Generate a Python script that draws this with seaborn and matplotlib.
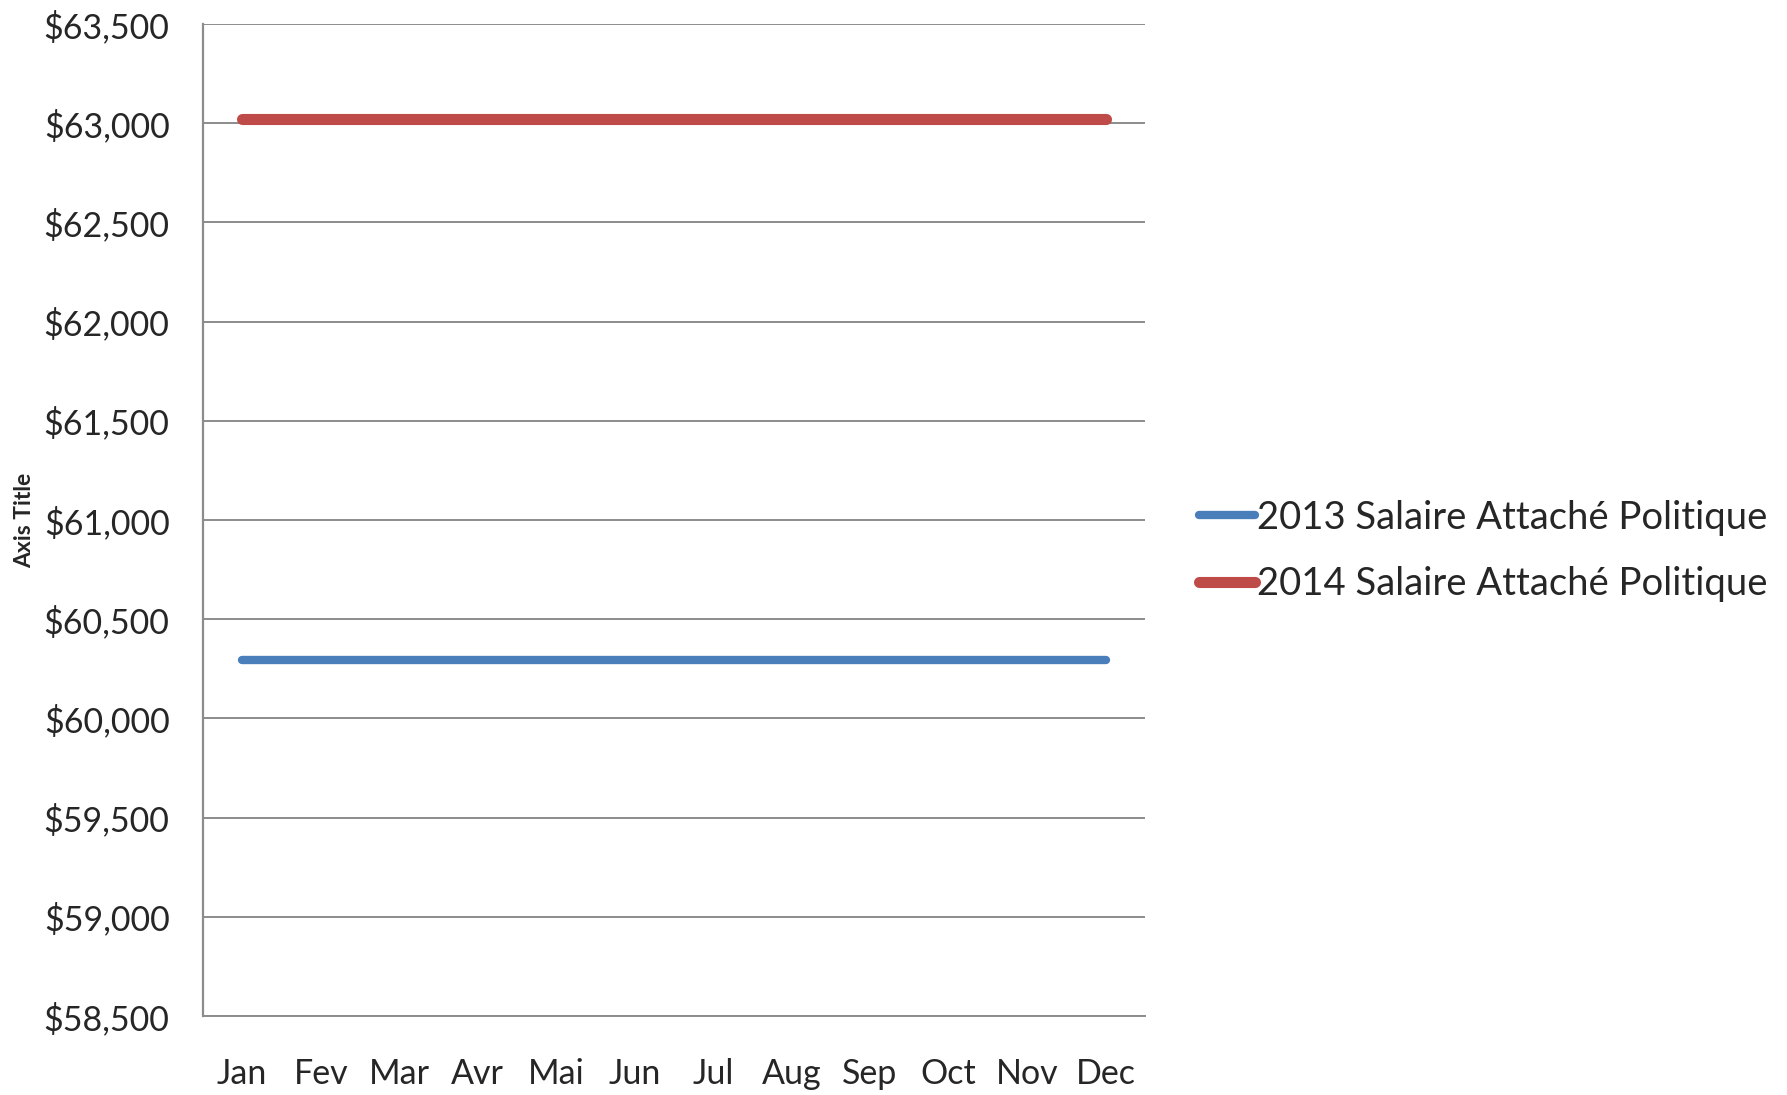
import pandas as pd
import seaborn as sns
import matplotlib.pyplot as plt
from matplotlib.ticker import FuncFormatter

# Monthly salary values
months = ["Jan", "Fev", "Mar", "Avr", "Mai", "Jun", "Jul", "Aug", "Sep", "Oct", "Nov", "Dec"]
salary_2013 = [60295] * 12
salary_2014 = [63022] * 12
series_names = ["2013 Salaire Attaché Politique", "2014 Salaire Attaché Politique"]

df = pd.DataFrame({
    "month": months * 2,
    "salary": salary_2013 + salary_2014,
    "series": [series_names[0]] * 12 + [series_names[1]] * 12,
})

sns.set_style("white")
plt.rcParams["font.family"] = ["Lato", "DejaVu Sans"]

fig = plt.figure(figsize=(17.87, 10.95), dpi=100)
ax = fig.add_axes([0.1136, 0.0721, 0.527, 0.906])

palette = {series_names[0]: "#4a7ebb", series_names[1]: "#be4b48"}
sns.lineplot(data=df, x="month", y="salary", hue="series", palette=palette,
             sort=False, ax=ax, linewidth=6, solid_capstyle="round")
# make the 2014 line a little thicker, like the original
ax.get_lines()[1].set_linewidth(8)

ax.set_xlim(-0.5, 11.5)
ax.set_ylim(58500, 63500)
ax.set_yticks(range(58500, 63501, 500))
ax.yaxis.set_major_formatter(FuncFormatter(lambda v, p: f"${v:,.0f}"))
ax.grid(axis="y", color="#8c8c8c", linewidth=1.4)
ax.set_axisbelow(True)

for side in ["top", "right"]:
    ax.spines[side].set_visible(False)
ax.spines["left"].set_color("#8c8c8c")
ax.spines["left"].set_linewidth(1.6)
ax.spines["bottom"].set_color("#8c8c8c")
ax.spines["bottom"].set_linewidth(1.4)

ax.tick_params(axis="y", length=0, pad=24, labelsize=24.5)
ax.tick_params(axis="x", length=0, pad=30, labelsize=24.5)
ax.set_xlabel("")
ax.set_ylabel("Axis Title", fontsize=16.5, fontweight="bold", labelpad=6)

handles, labels = ax.get_legend_handles_labels()
ax.legend().remove()
leg = fig.legend(handles, labels, loc="center left", bbox_to_anchor=(0.652, 0.497),
                 frameon=False, fontsize=27.5, handlelength=1.45, handletextpad=0.05,
                 labelspacing=0.8)
for line, lw in zip(leg.get_lines(), [6, 8]):
    line.set_linewidth(lw)
    line.set_solid_capstyle("round")

plt.savefig("out.png", dpi=100)
